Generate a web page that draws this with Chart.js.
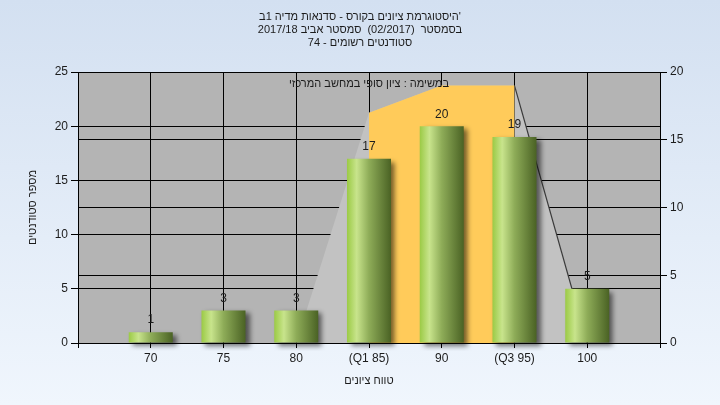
<!DOCTYPE html>
<html>
<head>
<meta charset="utf-8">
<script src="https://cdn.jsdelivr.net/npm/chart.js@4.4.0/dist/chart.umd.min.js"></script>
<style>
  html, body { margin: 0; padding: 0; }
  body { width: 720px; height: 405px; background: linear-gradient(180deg, #d3e0f1 0%, #f0f6fd 100%); }
  #wrap { position: relative; width: 720px; height: 405px; }
</style>
</head>
<body>
<div id="wrap"><canvas id="chart" dir="rtl"></canvas></div>
<script>
// grades on the x axis and how many students got each
const grades = [70, 75, 80, 85, 90, 95, 100];
const gradeLabels = ['70', '75', '80', '(Q1 85)', '90', '(Q3 95)', '100'];
const studentCounts = [1, 3, 3, 17, 20, 19, 5];

// background shape (right axis) and the Q1-Q3 band
const curveGrades = [80, 85, 90, 95, 100];
const curveValues = [0, 17, 19, 19, 0];
const bandGrades = [85, 90, 95];
const bandValues = [17, 19, 19];

const titleLines = [
  "'היסטוגרמת ציונים בקורס - סדנאות מדיה 1ב",
  'בסמסטר  (02/2017)  סמסטר אביב 2017/18',
  'סטודנטים רשומים - 74'
];
const xTitle = 'טווח ציונים';
const yTitle = 'מספר סטודנטים';
const noteText = 'במשימה : ציון סופי במחשב המרכזי';

const FONT = '"Liberation Sans", Arial, sans-serif';
const TEXT = '#1c1c1c';
const BAR_PCT = 0.605;

const plotBg = {
  id: 'plotBg',
  beforeDraw(chart) {
    const { ctx, chartArea: a } = chart;
    ctx.save();
    ctx.fillStyle = '#b4b4b4';
    ctx.fillRect(a.left, a.top, a.right - a.left, a.bottom - a.top);
    ctx.restore();
  }
};

const barShadow = {
  id: 'barShadow',
  beforeDatasetDraw(chart, args) {
    if (args.meta.type !== 'bar') return;
    const ctx = chart.ctx;
    ctx.save();
    ctx.shadowColor = 'rgba(0,0,0,0.55)';
    ctx.shadowBlur = 5;
    ctx.shadowOffsetX = 4;
    ctx.shadowOffsetY = 3;
  },
  afterDatasetDraw(chart, args) {
    if (args.meta.type !== 'bar') return;
    chart.ctx.restore();
  }
};

const barLabels = {
  id: 'barLabels',
  afterDatasetsDraw(chart) {
    const ctx = chart.ctx;
    ctx.save();
    ctx.font = '12px ' + FONT;
    ctx.fillStyle = TEXT;
    ctx.textAlign = 'center';
    ctx.textBaseline = 'middle';
    chart.data.datasets.forEach((ds, i) => {
      const meta = chart.getDatasetMeta(i);
      if (meta.type !== 'bar') return;
      meta.data.forEach((bar, j) => {
        ctx.fillText(String(studentCounts[j]), bar.x, bar.y - 12);
      });
    });
    // note at the top of the plot
    const a = chart.chartArea;
    ctx.font = '11px ' + FONT;
    ctx.fillText(noteText, (a.left + a.right) / 2, a.top + 12);
    ctx.restore();
  }
};

function barGradient(c) {
  const chart = c.chart;
  const xs = chart.scales.x;
  if (!chart.chartArea || c.type !== 'data' || !xs) return '#8fb04f';
  const cx = xs.getPixelForValue(grades[c.dataIndex]);
  const w = (xs.getPixelForValue(70) - xs.getPixelForValue(65)) * BAR_PCT;
  const g = chart.ctx.createLinearGradient(cx - w / 2, 0, cx + w / 2, 0);
  g.addColorStop(0, '#9bca45');
  g.addColorStop(0.22, '#c8e48c');
  g.addColorStop(0.5, '#8eac58');
  g.addColorStop(1, '#4a6224');
  return g;
}

new Chart(document.getElementById('chart'), {
  data: {
    datasets: [
      {
        type: 'bar',
        label: 'students',
        data: grades.map((g, i) => ({ x: g, y: studentCounts[i] })),
        yAxisID: 'y',
        backgroundColor: barGradient,
        borderWidth: 0,
        barPercentage: BAR_PCT,
        categoryPercentage: 1,
        clip: 8,
        order: 1
      },
      {
        type: 'line',
        label: 'band',
        data: bandGrades.map((g, i) => ({ x: g, y: bandValues[i] })),
        yAxisID: 'y2',
        fill: 'origin',
        backgroundColor: '#ffcb5a',
        borderWidth: 0,
        borderColor: 'rgba(0,0,0,0)',
        pointRadius: 0,
        tension: 0,
        order: 2
      },
      {
        type: 'line',
        label: 'curve',
        data: curveGrades.map((g, i) => ({ x: g, y: curveValues[i] })),
        yAxisID: 'y2',
        fill: 'origin',
        backgroundColor: '#c2c2c2',
        borderWidth: 1.2,
        segment: {
          borderColor: c => c.p0DataIndex === 3 ? '#3a3a3a' : 'rgba(0,0,0,0)'
        },
        pointRadius: 0,
        tension: 0,
        order: 3
      }
    ]
  },
  options: {
    responsive: true,
    maintainAspectRatio: false,
    animation: false,
    layout: { padding: 0 },
    plugins: {
      legend: { display: false },
      tooltip: { enabled: false },
      title: {
        display: true,
        text: titleLines,
        color: TEXT,
        font: { family: FONT, size: 11, weight: 'normal', lineHeight: 1.2 },
        padding: { top: 10, bottom: 22.4 }
      }
    },
    scales: {
      x: {
        type: 'linear',
        min: 65,
        max: 105,
        offset: false,
        afterFit: s => { s.height = 62; },
        ticks: {
          stepSize: 5,
          autoSkip: false,
          maxRotation: 0,
          padding: 3,
          color: TEXT,
          font: { family: FONT, size: 12 },
          callback: v => {
            const i = grades.indexOf(v);
            return i >= 0 ? gradeLabels[i] : '';
          }
        },
        grid: { color: '#000', lineWidth: 1, tickLength: 5, offset: false },
        border: { color: '#000' },
        title: {
          display: true,
          text: xTitle,
          color: TEXT,
          font: { family: FONT, size: 11 },
          padding: { top: 0, bottom: 17.4 }
        }
      },
      y: {
        position: 'left',
        min: 0,
        max: 25,
        afterFit: s => { s.width = 78; },
        ticks: { stepSize: 5, padding: 3, color: TEXT, font: { family: FONT, size: 12 } },
        grid: { color: '#000', lineWidth: 1, tickLength: 7 },
        border: { color: '#000' },
        title: {
          display: true,
          text: yTitle,
          color: TEXT,
          font: { family: FONT, size: 11 },
          padding: { top: 26.4, bottom: 0 }
        }
      },
      y2: {
        position: 'right',
        min: 0,
        max: 20,
        afterFit: s => { s.width = 60; },
        ticks: { stepSize: 5, padding: 3, color: TEXT, font: { family: FONT, size: 12 } },
        grid: { color: '#000', lineWidth: 1, tickLength: 7 },
        border: { color: '#000' }
      }
    }
  },
  plugins: [plotBg, barShadow, barLabels]
});
</script>
</body>
</html>
